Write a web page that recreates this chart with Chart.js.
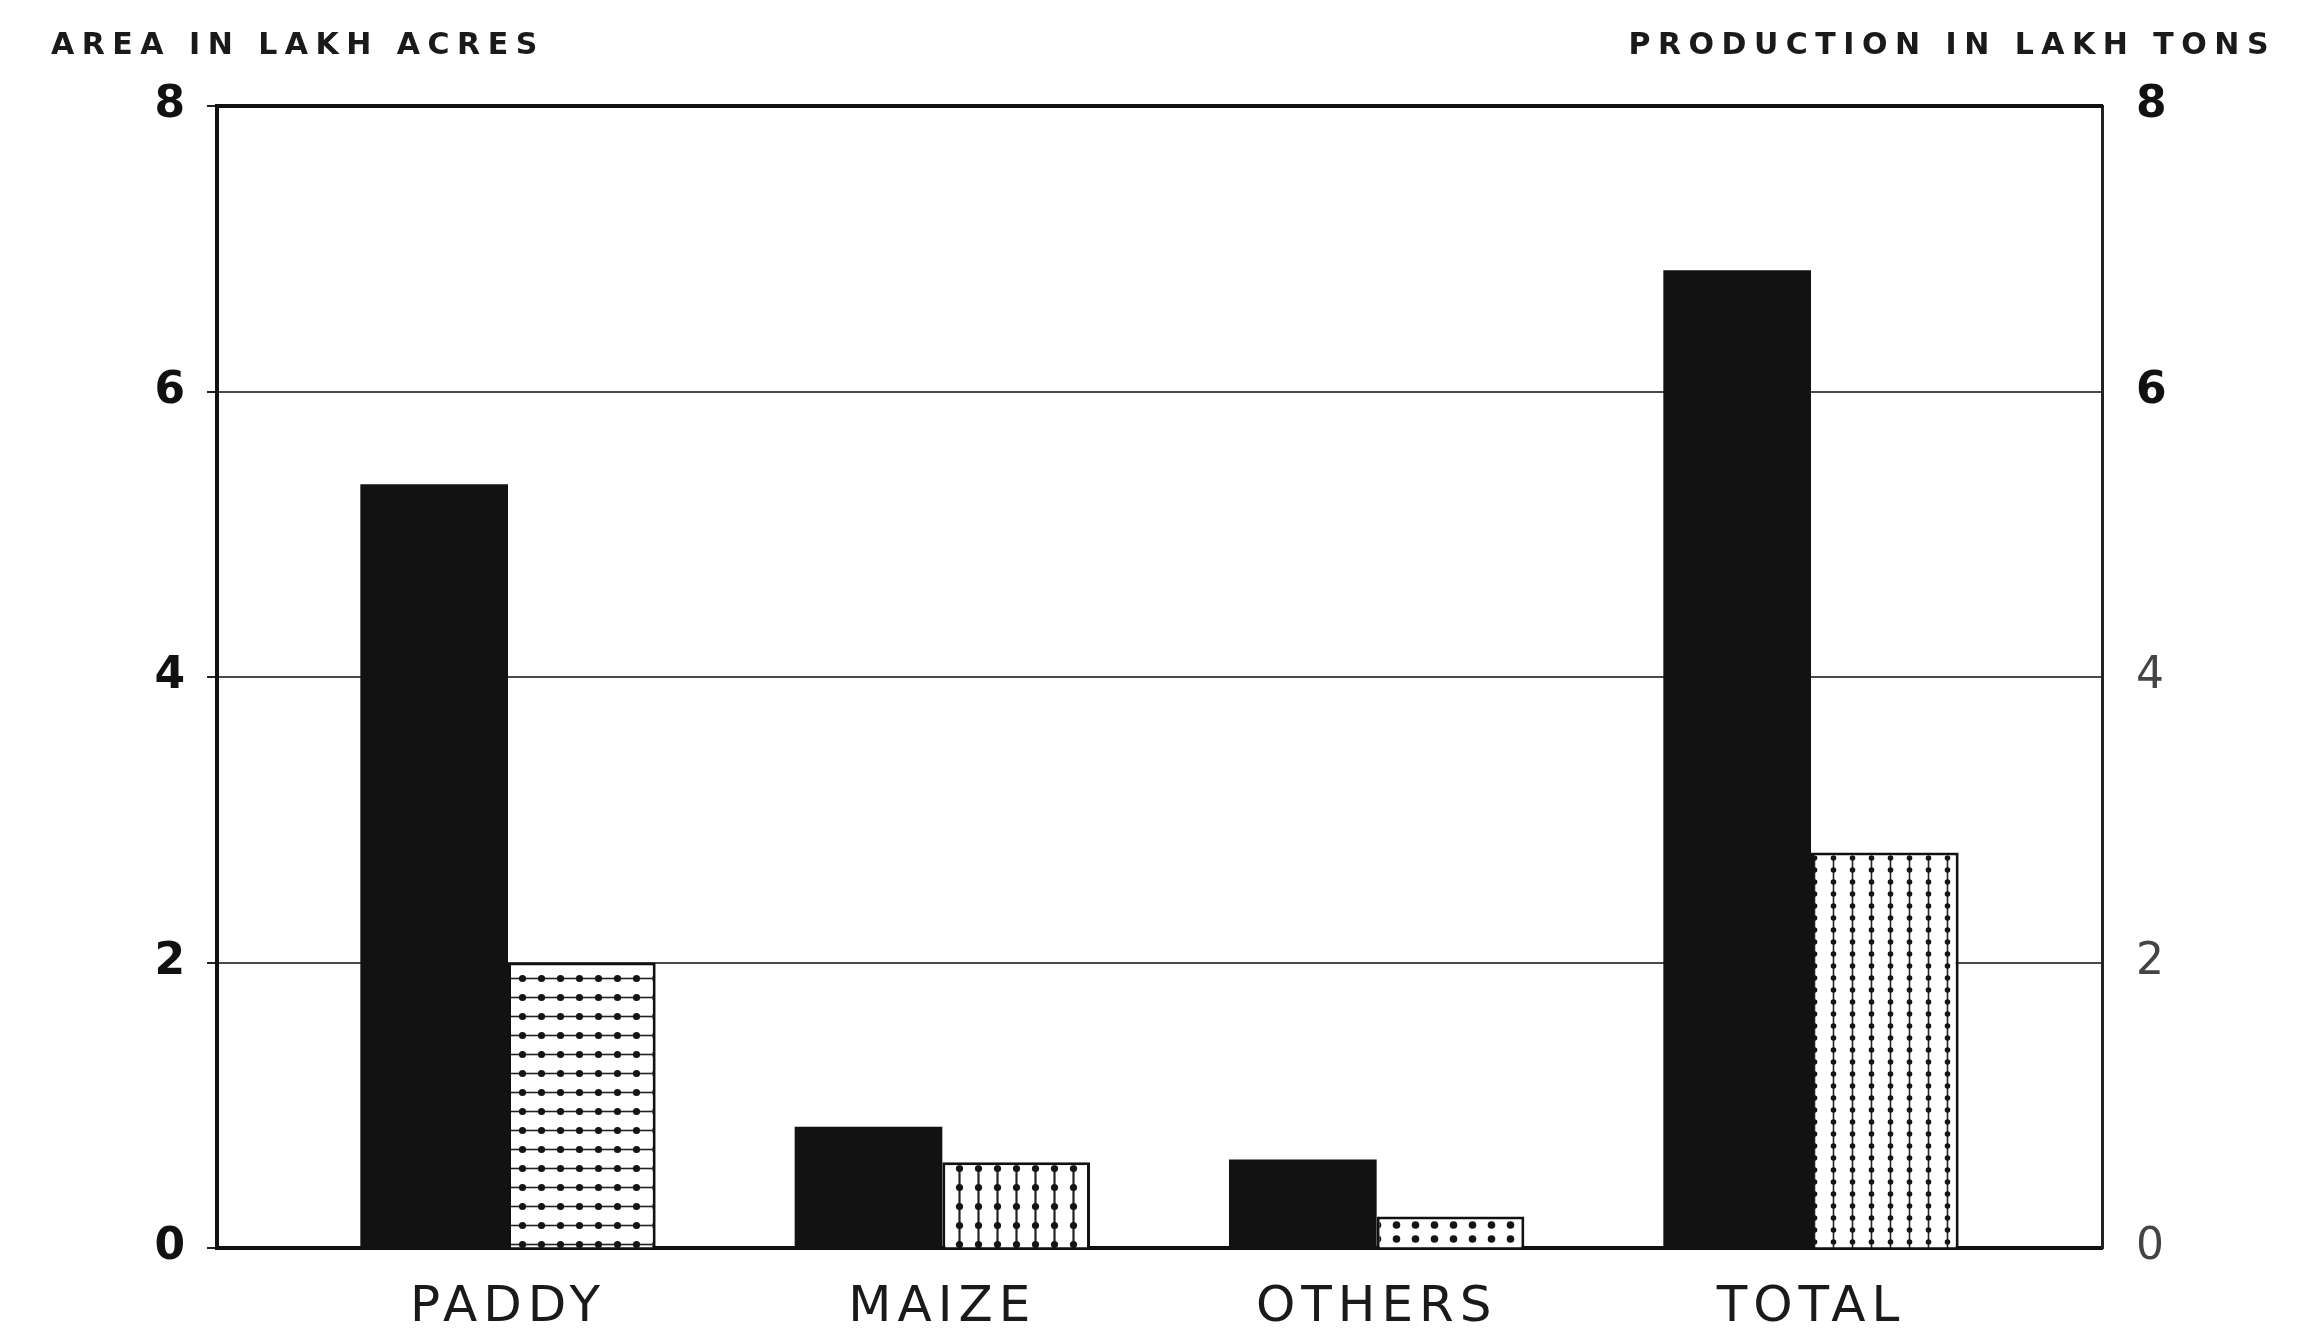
<!DOCTYPE html>
<html>
<head>
<meta charset="utf-8">
<script src="https://cdn.jsdelivr.net/npm/chart.js@4.4.1/dist/chart.umd.min.js"></script>
<style>
  body { margin: 0; background: #fff; }
  canvas { display: block; }
</style>
</head>
<body>
<canvas id="cropChart" width="2302" height="1344"></canvas>
<script>
// Chart values
const categories = ['PADDY', 'MAIZE', 'OTHERS', 'TOTAL'];
const areaLakhAcres = [5.35, 0.85, 0.62, 6.85];
const productionLakhTons = [2.0, 0.6, 0.22, 2.77];
const yTicks = [0, 2, 4, 6, 8];

// Build the fill patterns for the production bars
function makePattern(w, h, draw) {
    const c = document.createElement('canvas');
    c.width = w;
    c.height = h;
    const p = c.getContext('2d');
    p.fillStyle = '#fff';
    p.fillRect(0, 0, w, h);
    p.fillStyle = '#151515';
    p.strokeStyle = '#222';
    draw(p, w, h);
    return document.getElementById('cropChart').getContext('2d').createPattern(c, 'repeat');
}

function dot(p, x, y, r) {
    p.beginPath();
    p.arc(x, y, r, 0, Math.PI * 2);
    p.fill();
}

// dotted grid with horizontal lines
const gridDots = makePattern(19, 19, (p) => {
    p.lineWidth = 1.6;
    p.beginPath();
    p.moveTo(0, 9.5);
    p.lineTo(19, 9.5);
    p.stroke();
    dot(p, 9.5, 9.5, 3.6);
});
// vertical lines with dots
const vertDots = makePattern(19, 19, (p) => {
    p.lineWidth = 2.2;
    p.beginPath();
    p.moveTo(9.5, 0);
    p.lineTo(9.5, 19);
    p.stroke();
    dot(p, 9.5, 9.5, 3.6);
});
// row of dots
const plainDots = makePattern(19, 14, (p) => {
    dot(p, 9.5, 7, 3.8);
});
// fine vertical dotted lines
const fineVert = makePattern(19, 12, (p) => {
    p.lineWidth = 1.6;
    p.beginPath();
    p.moveTo(9.5, 0);
    p.lineTo(9.5, 12);
    p.stroke();
    dot(p, 9.5, 6, 2.8);
});

// Top frame line, the two axis captions and spaced category labels
const framePlugin = {
    id: 'frame',
    afterDatasetsDraw(chart) {
        // x labels are drawn after the bars (ticks.z = 1), with letter spacing
        chart.ctx.letterSpacing = '6px';
    },
    afterDraw(chart) {
        const { ctx, chartArea } = chart;
        ctx.letterSpacing = '0px';
        ctx.save();
        ctx.strokeStyle = '#111';
        ctx.lineWidth = 4;
        ctx.beginPath();
        ctx.moveTo(chartArea.left - 1.5, chartArea.top);
        ctx.lineTo(chartArea.right + 1, chartArea.top);
        ctx.stroke();

        ctx.fillStyle = '#1a1a1a';
        ctx.font = 'bold 30px "DejaVu Sans"';
        ctx.letterSpacing = '7.5px';
        ctx.textBaseline = 'alphabetic';
        ctx.textAlign = 'left';
        ctx.fillText('AREA IN LAKH ACRES', 51, 54);
        const right = 'PRODUCTION IN LAKH TONS';
        const w = ctx.measureText(right).width;
        ctx.fillText(right, 2276 - w, 54);
        ctx.restore();
        ctx.letterSpacing = '0px';
    }
};

const ctx = document.getElementById('cropChart').getContext('2d');
new Chart(ctx, {
    type: 'bar',
    data: {
        datasets: [{
            label: 'Area',
            data: categories.map((c, i) => ({ x: i, y: areaLakhAcres[i] })),
            backgroundColor: '#121212',
            borderWidth: 0,
            yAxisID: 'y'
        }, {
            label: 'Production',
            data: categories.map((c, i) => ({ x: i, y: productionLakhTons[i] })),
            backgroundColor: [gridDots, vertDots, plainDots, fineVert],
            borderColor: '#111',
            borderWidth: 3,
            borderSkipped: 'bottom',
            yAxisID: 'y2'
        }]
    },
    options: {
        responsive: false,
        animation: false,
        devicePixelRatio: 1,
        layout: { padding: { top: 106, left: 0, right: 0, bottom: 0 } },
        datasets: {
            bar: { categoryPercentage: 0.68, barPercentage: 1 }
        },
        plugins: {
            legend: { display: false },
            tooltip: { enabled: false }
        },
        scales: {
            x: {
                type: 'linear',
                min: -0.67,
                max: 3.67,
                offset: false,
                afterFit: (s) => { s.height = 96; },
                grid: { display: false, drawTicks: false },
                border: { color: '#111', width: 4 },
                ticks: {
                    z: 1,
                    stepSize: 1,
                    includeBounds: false,
                    padding: 30,
                    color: '#1a1a1a',
                    font: { family: 'DejaVu Sans', size: 50 },
                    callback: (v) => Number.isInteger(v) ? categories[v] : ''
                }
            },
            y: {
                position: 'left',
                min: 0,
                max: 8,
                afterFit: (s) => { s.width = 217; },
                afterBuildTicks: (s) => { s.ticks = yTicks.map(v => ({ value: v })); },
                grid: {
                    color: (c) => (c.tick && (c.tick.value === 0 || c.tick.value === 8)) ? 'rgba(0,0,0,0)' : '#4a4a4a',
                    lineWidth: 2,
                    tickColor: '#222',
                    tickLength: 10
                },
                border: { color: '#111', width: 4 },
                ticks: {
                    padding: 22,
                    color: '#111',
                    font: { family: 'DejaVu Sans', size: 44, weight: 'bold' }
                }
            },
            y2: {
                position: 'right',
                min: 0,
                max: 8,
                afterFit: (s) => { s.width = 200; },
                afterBuildTicks: (s) => { s.ticks = yTicks.map(v => ({ value: v })); },
                grid: { drawOnChartArea: false, drawTicks: false },
                border: { color: '#222', width: 3 },
                ticks: {
                    padding: 34,
                    color: (c) => c.tick.value >= 6 ? '#111' : '#444',
                    font: (c) => ({
                        family: 'DejaVu Sans',
                        size: 44,
                        weight: c.tick && c.tick.value >= 6 ? 'bold' : 'normal'
                    })
                }
            }
        }
    },
    plugins: [framePlugin]
});
</script>
</body>
</html>
